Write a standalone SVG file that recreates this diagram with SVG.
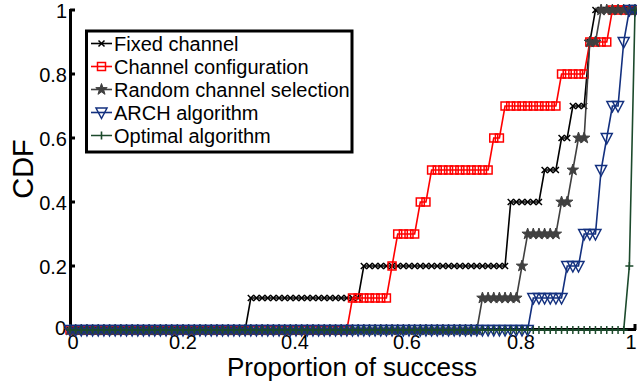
<svg xmlns="http://www.w3.org/2000/svg" width="637" height="383" viewBox="0 0 637 383">
<style>
.ax{stroke:#000;stroke-width:3;fill:none}
.tk{font-family:"Liberation Sans",Arial,sans-serif;font-size:20px;fill:#000}
.lb{font-family:"Liberation Sans",Arial,sans-serif;font-size:26px;fill:#000}
.s{fill:none;stroke-width:1.6}
.k{stroke:#000;marker-start:url(#mX);marker-mid:url(#mX);marker-end:url(#mX)}
.r{stroke:#ff0000;marker-start:url(#mS);marker-mid:url(#mS);marker-end:url(#mS)}
.g{stroke:#404040;marker-start:url(#mR);marker-mid:url(#mR);marker-end:url(#mR)}
.b{stroke:#13307f;marker-start:url(#mT);marker-mid:url(#mT);marker-end:url(#mT)}
.n{stroke:#1c4a2c;marker-start:url(#mP);marker-mid:url(#mP);marker-end:url(#mP)}
</style>
<defs>
<marker id="mX" markerUnits="userSpaceOnUse" markerWidth="10" markerHeight="10" refX="0" refY="0" overflow="visible"><path d="M-3,-3L3,3M-3,3L3,-3" stroke="#000" stroke-width="1.5" fill="none"/></marker>
<marker id="mS" markerUnits="userSpaceOnUse" markerWidth="10" markerHeight="10" refX="0" refY="0" overflow="visible"><rect x="-4" y="-4" width="8" height="8" stroke="#ff0000" stroke-width="1.5" fill="none"/></marker>
<marker id="mR" markerUnits="userSpaceOnUse" markerWidth="10" markerHeight="10" refX="0" refY="0" overflow="visible"><polygon points="0,-6 1.41,-1.94 5.71,-1.85 2.28,0.74 3.53,4.85 0,2.4 -3.53,4.85 -2.28,0.74 -5.71,-1.85 -1.41,-1.94" stroke="#404040" stroke-width="1" fill="#404040"/></marker>
<marker id="mT" markerUnits="userSpaceOnUse" markerWidth="10" markerHeight="10" refX="0" refY="0" overflow="visible"><path d="M-5.5,-4.5L5.5,-4.5L0,6Z" stroke="#13307f" stroke-width="1.5" fill="none"/></marker>
<marker id="mP" markerUnits="userSpaceOnUse" markerWidth="10" markerHeight="10" refX="0" refY="0" overflow="visible"><path d="M-4,0H4M0,-4V4" stroke="#1c4a2c" stroke-width="1.5" fill="none"/></marker>
</defs>
<g id="axes">
<path class="ax" d="M70.5,9V331M70,329.5H636" stroke-width="3.5"/>
<path class="ax" d="M70,10h5M70,74h5M70,138h5M70,202h5M70,266h5M183,330v-5M296,330v-5M409,330v-5M522,330v-5M635,330v-6"/>
<text class="tk" x="67" y="17.5" text-anchor="end">1</text>
<text class="tk" x="67" y="81.5" text-anchor="end">0.8</text>
<text class="tk" x="67" y="145.5" text-anchor="end">0.6</text>
<text class="tk" x="67" y="209.5" text-anchor="end">0.4</text>
<text class="tk" x="67" y="273.5" text-anchor="end">0.2</text>
<text class="tk" x="66" y="335" text-anchor="end">0</text>
<text class="tk" x="73" y="349" text-anchor="middle">0</text>
<text class="tk" x="183" y="349" text-anchor="middle">0.2</text>
<text class="tk" x="295" y="349" text-anchor="middle">0.4</text>
<text class="tk" x="407" y="349" text-anchor="middle">0.6</text>
<text class="tk" x="521" y="349" text-anchor="middle">0.8</text>
<text class="tk" x="631" y="349" text-anchor="middle">1</text>
<text class="lb" x="352" y="376" text-anchor="middle">Proportion of success</text>
<text class="lb" transform="translate(33,169) rotate(-90)" text-anchor="middle" style="font-size:29px">CDF</text>
</g>
<g id="connectors">
<path id="fixed" class="s k" d="M70,330h5.65 5.65 5.65 5.65 5.65  5.65 5.65 5.65 5.65 5.65  5.65 5.65 5.65 5.65 5.65  5.65 5.65 5.65 5.65 5.65  5.65 5.65 5.65 5.65 5.65  5.65 5.65 5.65 5.65 5.65  5.65l5.65,-32h5.65 5.65 5.65 5.65 5.65  5.65 5.65 5.65 5.65 5.65  5.65 5.65 5.65 5.65 5.65  5.65 5.65 5.65 5.65l5.65,-32h5.65 5.65 5.65 5.65 5.65  5.65 5.65 5.65 5.65 5.65  5.65 5.65 5.65 5.65 5.65  5.65 5.65 5.65 5.65 5.65  5.65 5.65 5.65 5.65 5.65l5.65,-64h5.65 5.65 5.65 5.65 5.65l5.65,-32h5.65 5.65l5.65,-32h5.65l5.65,-32h5.65 5.65l5.65,-64l5.65,-32h5.65 5.65 5.65 5.65 5.65  5.65 5.65"/>
<path id="config" class="s r" d="M70,330h5.65 5.65 5.65 5.65 5.65  5.65 5.65 5.65 5.65 5.65  5.65 5.65 5.65 5.65 5.65  5.65 5.65 5.65 5.65 5.65  5.65 5.65 5.65 5.65 5.65  5.65 5.65 5.65 5.65 5.65  5.65 5.65 5.65 5.65 5.65  5.65 5.65 5.65 5.65 5.65  5.65 5.65 5.65 5.65 5.65  5.65 5.65 5.65 5.65l5.65,-32h5.65 5.65 5.65 5.65 5.65  5.65l5.65,-32l5.65,-32h5.65 5.65 5.65l5.65,-32h5.65l5.65,-32h5.65 5.65 5.65 5.65 5.65  5.65 5.65 5.65 5.65 5.65l5.65,-32h5.65l5.65,-32h5.65 5.65 5.65 5.65 5.65  5.65 5.65 5.65 5.65l5.65,-32h5.65 5.65 5.65 5.65l5.65,-32h5.65 5.65 5.65l5.65,-32h5.65 5.65 5.65 5.65"/>
<path id="random" class="s g" d="M70,330h5.65 5.65 5.65 5.65 5.65  5.65 5.65 5.65 5.65 5.65  5.65 5.65 5.65 5.65 5.65  5.65 5.65 5.65 5.65 5.65  5.65 5.65 5.65 5.65 5.65  5.65 5.65 5.65 5.65 5.65  5.65 5.65 5.65 5.65 5.65  5.65 5.65 5.65 5.65 5.65  5.65 5.65 5.65 5.65 5.65  5.65 5.65 5.65 5.65 5.65  5.65 5.65 5.65 5.65 5.65  5.65 5.65 5.65 5.65 5.65  5.65 5.65 5.65 5.65 5.65  5.65 5.65 5.65 5.65 5.65  5.65 5.65l5.65,-32h5.65 5.65 5.65 5.65 5.65  5.65l5.65,-32l5.65,-32h5.65 5.65 5.65 5.65 5.65l5.65,-32h5.65l5.65,-32l5.65,-32h5.65l5.65,-96h5.65l5.65,-32h5.65 5.65 5.65 5.65 5.65  5.65"/>
<path id="arch" class="s b" d="M70,330h5.65 5.65 5.65 5.65 5.65  5.65 5.65 5.65 5.65 5.65  5.65 5.65 5.65 5.65 5.65  5.65 5.65 5.65 5.65 5.65  5.65 5.65 5.65 5.65 5.65  5.65 5.65 5.65 5.65 5.65  5.65 5.65 5.65 5.65 5.65  5.65 5.65 5.65 5.65 5.65  5.65 5.65 5.65 5.65 5.65  5.65 5.65 5.65 5.65 5.65  5.65 5.65 5.65 5.65 5.65  5.65 5.65 5.65 5.65 5.65  5.65 5.65 5.65 5.65 5.65  5.65 5.65 5.65 5.65 5.65  5.65 5.65 5.65 5.65 5.65  5.65 5.65 5.65 5.65 5.65  5.65l5.65,-32h5.65 5.65 5.65 5.65 5.65l5.65,-32h5.65 5.65l5.65,-32h5.65 5.65l5.65,-64l5.65,-32l5.65,-32h5.65l5.65,-64l5.65,-32h5.65"/>
<path id="optimal" class="s n" d="M70,330h5.65 5.65 5.65 5.65 5.65  5.65 5.65 5.65 5.65 5.65  5.65 5.65 5.65 5.65 5.65  5.65 5.65 5.65 5.65 5.65  5.65 5.65 5.65 5.65 5.65  5.65 5.65 5.65 5.65 5.65  5.65 5.65 5.65 5.65 5.65  5.65 5.65 5.65 5.65 5.65  5.65 5.65 5.65 5.65 5.65  5.65 5.65 5.65 5.65 5.65  5.65 5.65 5.65 5.65 5.65  5.65 5.65 5.65 5.65 5.65  5.65 5.65 5.65 5.65 5.65  5.65 5.65 5.65 5.65 5.65  5.65 5.65 5.65 5.65 5.65  5.65 5.65 5.65 5.65 5.65  5.65 5.65 5.65 5.65 5.65  5.65 5.65 5.65 5.65 5.65  5.65 5.65 5.65 5.65 5.65  5.65 5.65 5.65l5.65,-64l5.65,-256"/>
</g>
<g id="legend">
<rect x="86.5" y="31" width="265.5" height="121" fill="#fff" stroke="#000" stroke-width="3"/>
<g id="leg-fixed"><path d="M91,43.5H112" stroke="#000" stroke-width="1.6"/><path d="M98.5,40.5l6,6M98.5,46.5l6,-6" stroke="#000" stroke-width="1.5"/><text class="tk" x="114" y="50.7">Fixed channel</text></g>
<g id="leg-config"><path d="M91,66.5H112" stroke="#ff0000" stroke-width="1.6"/><rect x="97.5" y="62.5" width="8" height="8" stroke="#ff0000" stroke-width="1.5" fill="none"/><text class="tk" x="114" y="73.7">Channel configuration</text></g>
<g id="leg-random"><path d="M91,89.5H112" stroke="#404040" stroke-width="1.6"/><polygon transform="translate(101.5,89.5)" points="0,-6 1.41,-1.94 5.71,-1.85 2.28,0.74 3.53,4.85 0,2.4 -3.53,4.85 -2.28,0.74 -5.71,-1.85 -1.41,-1.94" fill="#404040" stroke="#404040"/><text class="tk" x="114" y="96.7">Random channel selection</text></g>
<g id="leg-arch"><path d="M91,112.5H112" stroke="#13307f" stroke-width="1.6"/><path d="M96,108L107,108L101.5,118.5Z" stroke="#13307f" stroke-width="1.5" fill="none"/><text class="tk" x="114" y="119.7">ARCH algorithm</text></g>
<g id="leg-optimal"><path d="M91,135.5H112M101.5,131.5V139.5" stroke="#1c4a2c" stroke-width="1.6"/><text class="tk" x="114" y="142.7">Optimal algorithm</text></g>
</g>
</svg>
